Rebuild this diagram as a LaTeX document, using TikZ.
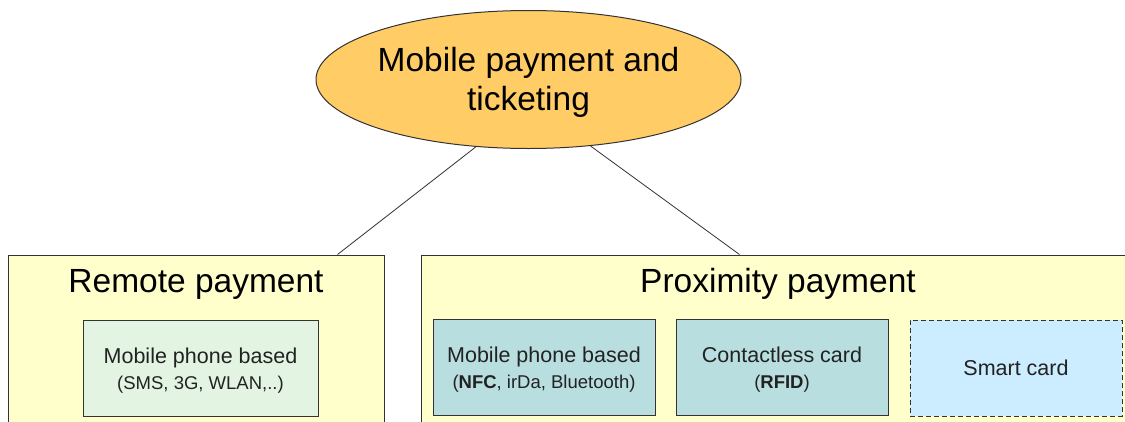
\documentclass[tikz,border=0pt]{standalone}
\usepackage{fontspec}
\setmainfont{Liberation Sans}
\usetikzlibrary{shapes.geometric}
\definecolor{orangefill}{HTML}{FFCC66}
\definecolor{yellowfill}{HTML}{FFFFCC}
\definecolor{greenfill}{HTML}{E3F4E3}
\definecolor{tealfill}{HTML}{B8DEE0}
\definecolor{bluefill}{HTML}{CCECFF}
\definecolor{edgecol}{HTML}{333333}
\definecolor{textcol}{HTML}{222222}
\begin{document}
\begin{tikzpicture}[x=1pt,y=-1pt,
  outerbox/.style={draw=edgecol, fill=yellowfill, line width=1pt, inner sep=0pt},
  innerbox/.style={draw=edgecol, line width=1pt, inner sep=0pt, minimum height=96pt},
  innertext/.style={inner sep=0pt, align=center, text=textcol,
    font=\fontsize{21.5}{26}\selectfont},
  heading/.style={font=\fontsize{33.5}{39}\selectfont, inner sep=0pt},
  dashedbox/.style={dash pattern=on 5pt off 3pt},
  link/.style={draw=edgecol, line width=0.8pt}]
\useasboundingbox (0,0) rectangle (1125,421);
\clip (0,0) rectangle (1125,421);
\fill[white] (0,0) rectangle (1125,421);

% outer boxes
\node[outerbox, minimum width=376pt, minimum height=185pt] (remote) at (196,347.5) {};
\node[outerbox, minimum width=719pt, minimum height=185pt] (prox) at (780.5,347.5) {};
\node[heading, anchor=base] (remotetitle) at (196,292) {Remote payment};
\node[heading, anchor=base] (proxtitle) at (778,292) {Proximity payment};

% inner boxes
\node[innerbox, fill=greenfill, minimum width=235pt] (rphone) at (200.5,368) {};
\node[innerbox, fill=tealfill, minimum width=222pt] (nfc) at (544,367) {};
\node[innerbox, fill=tealfill, minimum width=212pt] (cless) at (782,367) {};
\node[innerbox, fill=bluefill, dashedbox, minimum width=212pt] (smart) at (1016,368) {};

\node[innertext] (rphonetext) at ([yshift=-3pt]rphone.center)
  {Mobile phone based\\{\fontsize{18.5}{22}\selectfont (SMS, 3G, WLAN,..)}};
\node[innertext] (nfctext) at ([yshift=-3pt]nfc.center)
  {Mobile phone based\\{\fontsize{18.5}{22}\selectfont (\textbf{NFC}, irDa, Bluetooth)}};
\node[innertext] (clesstext) at ([yshift=-3pt]cless.center)
  {Contactless card\\{\fontsize{18.5}{22}\selectfont (\textbf{RFID})}};
\node[innertext] (smarttext) at (smart.center) {Smart card};

% top ellipse
\node[ellipse, draw=edgecol, fill=orangefill, line width=1pt, minimum width=425pt,
  minimum height=138pt, inner sep=0pt] (top) at (528.5,79.5) {};
\node[heading, align=center] (toptext) at ([yshift=-3pt]top.center)
  {Mobile payment and\\ticketing};

% connectors
\coordinate (rjoin) at ([xshift=330pt]remote.north west);
\coordinate (pjoin) at ([xshift=319pt]prox.north west);
\draw[link] (top.232.6) -- (rjoin);
\draw[link] (top.-47.2) -- (pjoin);
\end{tikzpicture}
\end{document}
